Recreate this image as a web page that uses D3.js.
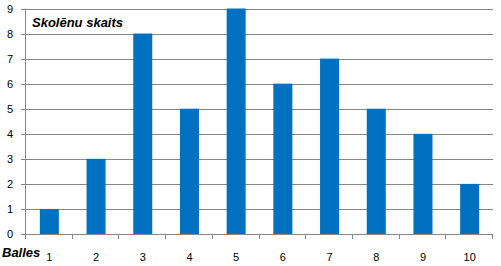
<!DOCTYPE html>
<html><head><meta charset="utf-8">
<script src="https://cdn.jsdelivr.net/npm/d3@7"></script>
<style>body{margin:0;background:#fff}svg{display:block}</style>
</head><body>
<svg id="c" width="501" height="266"></svg>
<script>
const categories = ["1","2","3","4","5","6","7","8","9","10"];
const values = [1,3,8,5,9,6,7,5,4,2];
const yTicks = [0,1,2,3,4,5,6,7,8,9];

const svg = d3.select("#c");
const x = d3.scaleBand().domain(categories).range([26,493]).paddingInner(0.6).paddingOuter(0.3);
const xb = d3.scaleBand().domain(categories).range([26,493]);
const y = d3.scaleLinear().domain([0,9]).range([234,8.5]);
const grid = "#878787";
const font = "Liberation Sans, Arial, sans-serif";

// gridlines
svg.append("g").selectAll("line").data(yTicks.filter(d=>d>0)).join("line")
  .attr("x1",21).attr("x2",493).attr("y1",d=>Math.round(y(d))+0.5).attr("y2",d=>Math.round(y(d))+0.5)
  .attr("stroke",grid).attr("stroke-width",1);

// bars
svg.append("g").selectAll("rect").data(values).join("rect")
  .attr("x",(d,i)=>xb(categories[i]) + xb.bandwidth()/2 - 9.5)
  .attr("width",19)
  .attr("y",d=>y(d)).attr("height",d=>y(0)-y(d))
  .attr("fill","#0070C0");

// y axis line
svg.append("line").attr("x1",25.5).attr("x2",25.5).attr("y1",y(9)).attr("y2",234).attr("stroke",grid);
svg.append("line").attr("x1",21).attr("x2",25.5).attr("y1",234.5).attr("y2",234.5).attr("stroke",grid);
// x axis
svg.append("line").attr("x1",25.5).attr("x2",493).attr("y1",234.5).attr("y2",234.5).attr("stroke",grid);
svg.append("g").selectAll("line").data(categories.concat(["end"])).join("line")
  .attr("x1",(d,i)=>Math.round(26+i*xb.step())-0.5).attr("x2",(d,i)=>Math.round(26+i*xb.step())-0.5)
  .attr("y1",234).attr("y2",239).attr("stroke",grid);

// y labels
svg.append("g").selectAll("text").data(yTicks).join("text")
  .attr("x",13).attr("y",d=>y(d)+4).attr("text-anchor","end")
  .attr("font-family",font).attr("font-size",11).attr("fill","#000").text(d=>d);

// x labels
svg.append("g").selectAll("text").data(categories).join("text")
  .attr("x",d=>xb(d)+xb.bandwidth()/2).attr("y",261).attr("text-anchor","middle")
  .attr("font-family",font).attr("font-size",11).attr("fill","#000").text(d=>d);

svg.append("text").attr("x",2).attr("y",257).attr("font-family",font).attr("font-size",13)
  .attr("font-weight","bold").attr("font-style","italic").text("Balles");
svg.append("text").attr("x",32).attr("y",27).attr("font-family",font).attr("font-size",13)
  .attr("font-weight","bold").attr("font-style","italic").text("Skolēnu skaits");
</script>
</body></html>
